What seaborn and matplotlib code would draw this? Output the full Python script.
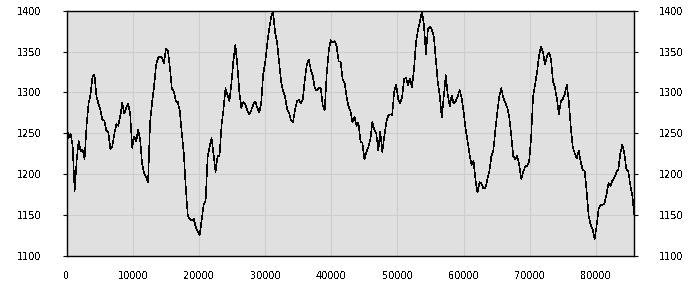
import numpy as np
import pandas as pd
import matplotlib
matplotlib.use("Agg")
import matplotlib.pyplot as plt
import seaborn as sns

# Sampled series (one reading every 300 units along the x axis)
sample_step = 300
values = [
    1257, 1244, 1249, 1234, 1179, 1216, 1240, 1228, 1230, 1218,
    1259, 1286, 1297, 1319, 1322, 1295, 1286, 1278, 1266, 1265,
    1253, 1251, 1230, 1234, 1249, 1261, 1259, 1271, 1287, 1274,
    1281, 1286, 1273, 1232, 1246, 1240, 1254, 1242, 1212, 1201,
    1196, 1190, 1263, 1287, 1307, 1333, 1342, 1344, 1342, 1336,
    1353, 1351, 1330, 1304, 1301, 1289, 1288, 1277, 1250, 1225,
    1183, 1149, 1145, 1143, 1145, 1135, 1129, 1125, 1144, 1162,
    1167, 1220, 1233, 1244, 1224, 1202, 1222, 1222, 1259, 1279,
    1305, 1297, 1289, 1311, 1339, 1358, 1333, 1300, 1281, 1288,
    1285, 1278, 1273, 1278, 1285, 1289, 1281, 1275, 1287, 1322,
    1336, 1359, 1377, 1392, 1399, 1373, 1361, 1337, 1314, 1302,
    1295, 1280, 1275, 1266, 1263, 1278, 1289, 1291, 1286, 1292,
    1316, 1334, 1340, 1328, 1320, 1305, 1302, 1306, 1305, 1284,
    1278, 1322, 1350, 1364, 1361, 1363, 1357, 1338, 1338, 1316,
    1312, 1295, 1283, 1277, 1263, 1270, 1259, 1263, 1240, 1238,
    1218, 1227, 1233, 1242, 1264, 1254, 1249, 1229, 1252, 1227,
    1245, 1263, 1271, 1273, 1272, 1301, 1309, 1292, 1286, 1294,
    1316, 1318, 1309, 1317, 1306, 1329, 1361, 1377, 1387, 1399,
    1382, 1347, 1377, 1380, 1377, 1368, 1340, 1312, 1295, 1269,
    1295, 1321, 1297, 1283, 1296, 1286, 1289, 1295, 1303, 1293,
    1276, 1255, 1240, 1224, 1211, 1216, 1192, 1177, 1190, 1188,
    1182, 1183, 1194, 1204, 1222, 1229, 1254, 1276, 1296, 1305,
    1293, 1287, 1281, 1269, 1247, 1222, 1218, 1222, 1211, 1194,
    1202, 1209, 1210, 1215, 1244, 1295, 1309, 1325, 1345, 1356,
    1349, 1334, 1344, 1349, 1341, 1314, 1306, 1292, 1273, 1289,
    1292, 1298, 1309, 1289, 1257, 1233, 1225, 1219, 1228, 1215,
    1205, 1204, 1178, 1148, 1138, 1132, 1120, 1136, 1157, 1162,
    1162, 1164, 1175, 1189, 1185, 1192, 1196, 1202, 1206, 1226,
    1236, 1225, 1206, 1203, 1186, 1173, 1150,
]
x_ticks = [0, 10000, 20000, 30000, 40000, 50000, 60000, 70000, 80000]
y_ticks = [1100, 1150, 1200, 1250, 1300, 1350, 1400]

df = pd.DataFrame({"x": np.arange(len(values)) * sample_step, "y": values})

sns.set_style("white")
plt.rcParams["font.family"] = ["DejaVu Sans"]
plt.rcParams["text.antialiased"] = False

fig = plt.figure(figsize=(7, 3), dpi=100)
ax = fig.add_axes([66.7 / 700, 1 - 255.5 / 300, (634.3 - 66.7) / 700, (255.5 - 10.7) / 300])
ax.set_facecolor("#e0e0e0")

sns.lineplot(data=df, x="x", y="y", ax=ax, color="black", linewidth=0.4,
             antialiased=False)

ax.set_xlim(df["x"].iloc[0], df["x"].iloc[-1])
ax.set_ylim(1100, 1400)
ax.set_xticks(x_ticks)
ax.set_xticklabels([str(t) for t in x_ticks])
ax.set_yticks(y_ticks)
ax.set_yticklabels([str(t) for t in y_ticks])
ax.set_xlabel("")
ax.set_ylabel("")
ax.grid(True, color="#cdcdcd", linewidth=0.8)
ax.set_axisbelow(True)
for s in ax.spines.values():
    s.set_color("black")
    s.set_linewidth(1.0)
ax.tick_params(axis="y", which="both", left=True, right=True, labelleft=True,
               labelright=True, length=3, width=0.8, pad=15, labelsize=7,
               direction="out", colors="black")
ax.tick_params(axis="x", length=3, width=0.8, pad=8, labelsize=7,
               direction="out", colors="black")

fig.savefig("out.png", dpi=100)
